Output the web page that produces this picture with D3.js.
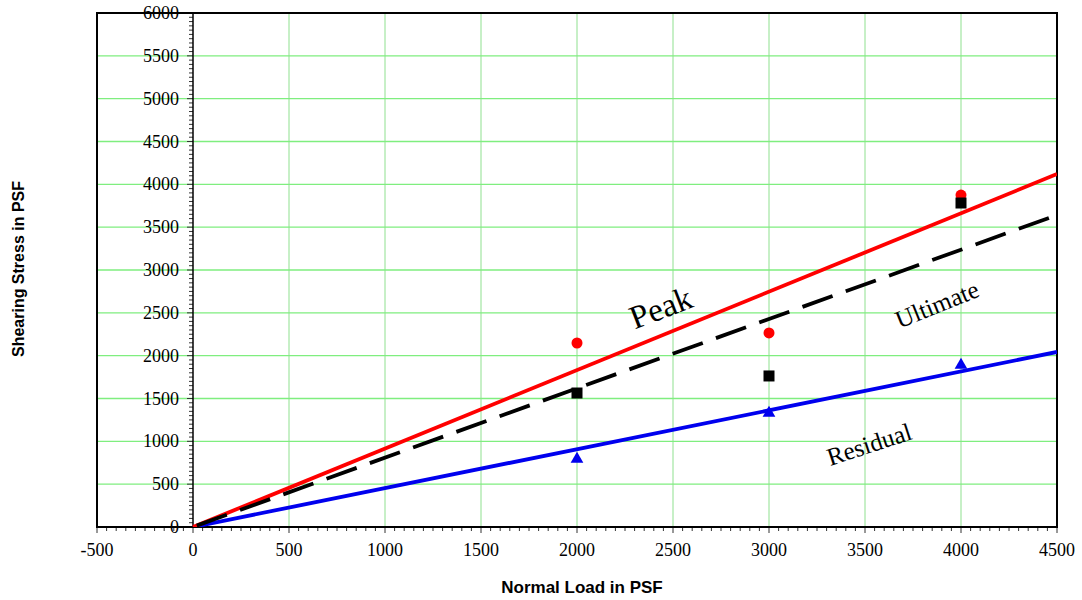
<!DOCTYPE html>
<html>
<head>
<meta charset="utf-8">
<script src="https://cdn.jsdelivr.net/npm/d3@7"></script>
<style>
body{margin:0;background:#fff;}
svg{display:block;}
</style>
</head>
<body>
<svg id="chart" width="1082" height="600"></svg>
<script>
const xTicks = [-500,0,500,1000,1500,2000,2500,3000,3500,4000,4500];
const yTicks = [0,500,1000,1500,2000,2500,3000,3500,4000,4500,5000,5500,6000];
const testLoads = [2000,3000,4000];
const peakValues = [2148,2265,3875];
const ultimateValues = [1564,1763,3782];
const residualValues = [793,1331,1891];
const fitLoads = [0,4500];
const peakFit = [0,4120];
const ultimateFit = [0,3642];
const residualFit = [0,2043];
const curveLabels = ["Peak","Ultimate","Residual"];

const svg = d3.select("#chart");
const x = d3.scaleLinear().domain([-500,4500]).range([97,1057]);
const y = d3.scaleLinear().domain([0,6000]).range([527,13]);
const serif = "'Liberation Serif','Times New Roman',serif";
const sans = "'Liberation Sans',Arial,sans-serif";

// grid
const g = svg.append("g");
g.selectAll(".vg").data(xTicks.filter(d=>d>0 && d<4500)).join("line")
  .attr("x1",d=>x(d)).attr("x2",d=>x(d)).attr("y1",y(0)).attr("y2",y(6000))
  .attr("stroke","#8fe08f").attr("stroke-width",1);
g.selectAll(".hg").data(yTicks.filter(d=>d>0 && d<6000)).join("line")
  .attr("x1",x(-500)).attr("x2",x(4500)).attr("y1",d=>y(d)).attr("y2",d=>y(d))
  .attr("stroke","#7fee7f").attr("stroke-width",1.3);

// minor ticks
const minorX = d3.range(-500,4501,50);
const minorY = d3.range(0,6001,50);
svg.append("g").selectAll("line").data(minorX).join("line")
  .attr("x1",d=>x(d)).attr("x2",d=>x(d)).attr("y1",y(0)).attr("y2",d=>y(0)+(d%500===0?6:4))
  .attr("stroke","#333").attr("stroke-width",1);
svg.append("g").selectAll("line").data(minorY).join("line")
  .attr("y1",d=>y(d)).attr("y2",d=>y(d)).attr("x1",x(0)).attr("x2",d=>x(0)-(d%500===0?6:4))
  .attr("stroke","#333").attr("stroke-width",1);

// y axis line at x=0
svg.append("line").attr("x1",x(0)).attr("x2",x(0)).attr("y1",y(0)).attr("y2",y(6000))
  .attr("stroke","#000").attr("stroke-width",1.5);

// frame
svg.append("rect").attr("x",x(-500)).attr("y",y(6000)).attr("width",x(4500)-x(-500)).attr("height",y(0)-y(6000))
  .attr("fill","none").attr("stroke","#000").attr("stroke-width",2);

// tick labels
svg.append("g").selectAll("text").data(xTicks).join("text")
  .attr("x",d=>x(d)).attr("y",555.5).attr("text-anchor","middle")
  .attr("font-family",serif).attr("font-size",18).text(d=>d);
svg.append("g").selectAll("text").data(yTicks).join("text")
  .attr("x",x(0)-14).attr("y",d=>y(d)+6).attr("text-anchor","end")
  .attr("font-family",serif).attr("font-size",18).text(d=>d);

// axis titles
svg.append("text").attr("x",582).attr("y",593).attr("text-anchor","middle")
  .attr("font-family",sans).attr("font-weight","bold").attr("font-size",17).text("Normal Load in PSF");
svg.append("text").attr("transform","translate(24,269) rotate(-90)").attr("text-anchor","middle")
  .attr("font-family",sans).attr("font-weight","bold").attr("font-size",16).text("Shearing Stress in PSF");

// fit lines
const line = d3.line().x(d=>x(d[0])).y(d=>y(d[1]));
svg.append("clipPath").attr("id","pc").append("rect")
  .attr("x",x(-500)).attr("y",y(6000)).attr("width",x(4500)-x(-500)).attr("height",y(0)-y(6000));
const lines = svg.append("g").attr("clip-path","url(#pc)");
lines.append("path").datum(fitLoads.map((d,i)=>[d,residualFit[i]])).attr("d",line)
  .attr("stroke","#0000ee").attr("stroke-width",3.8).attr("fill","none");
lines.append("path").datum(fitLoads.map((d,i)=>[d,peakFit[i]])).attr("d",line)
  .attr("stroke","#ff0000").attr("stroke-width",3.8).attr("fill","none");
lines.append("path").datum(fitLoads.map((d,i)=>[d,ultimateFit[i]])).attr("d",line)
  .attr("stroke","#000").attr("stroke-width",3.8).attr("fill","none")
  .attr("stroke-dasharray","32,14").attr("stroke-dashoffset",-4);

// markers
svg.append("g").selectAll("circle").data(testLoads).join("circle")
  .attr("cx",d=>x(d)).attr("cy",(d,i)=>y(peakValues[i])).attr("r",5.5).attr("fill","#ff0000");
svg.append("g").selectAll("rect").data(testLoads).join("rect")
  .attr("x",d=>x(d)-5.5).attr("y",(d,i)=>y(ultimateValues[i])-5.5).attr("width",11).attr("height",11).attr("fill","#000");
const tri = d3.symbol().type(d3.symbolTriangle).size(70);
svg.append("g").selectAll("path").data(testLoads).join("path")
  .attr("d",tri).attr("transform",(d,i)=>`translate(${x(d)},${y(residualValues[i])})`).attr("fill","#0000ee");

// curve labels
const labelPos = [[2443,2521,-21,33],[3880,2568,-22,25],[3526,934,-18,25]];
svg.append("g").selectAll("text").data(curveLabels).join("text")
  .attr("transform",(d,i)=>`translate(${x(labelPos[i][0])},${y(labelPos[i][1])}) rotate(${labelPos[i][2]})`)
  .attr("text-anchor","middle").attr("dominant-baseline","middle")
  .attr("font-family",serif).attr("font-size",(d,i)=>labelPos[i][3]).text(d=>d);
</script>
</body>
</html>
